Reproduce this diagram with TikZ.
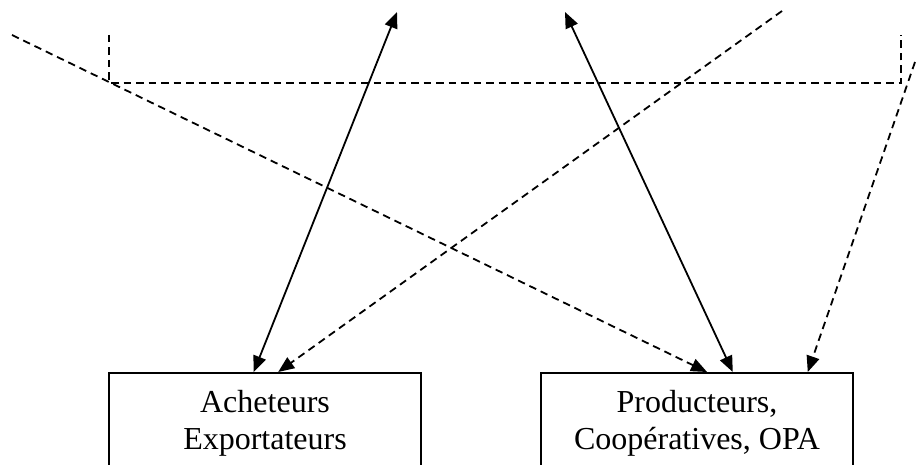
\documentclass[tikz,border=0pt]{standalone}
\usepackage{fontspec}
\setmainfont{Liberation Serif}
\usetikzlibrary{arrows.meta,calc}

\tikzset{
  actor/.style={draw, line width=1.8pt, minimum width=312pt, minimum height=130pt,
                anchor=north, inner sep=0pt},
  actorlabel/.style={anchor=north, align=center, inner sep=0pt,
                font=\fontsize{32pt}{37pt}\selectfont},
  tip/.style={Triangle[length=16pt,width=13pt]},
  flow/.style={line width=1.8pt, -{Triangle[length=16pt,width=13pt]}},
  twoway/.style={line width=1.8pt, {Triangle[length=16pt,width=13pt]}-{Triangle[length=16pt,width=13pt]}},
  dashflow/.style={flow, dash pattern=on 7.5pt off 5pt},
  dashline/.style={line width=1.8pt, dash pattern=on 7.5pt off 5pt}
}

\begin{document}
\begin{tikzpicture}[x=1pt, y=-1pt]
  \useasboundingbox (0,0) rectangle (917,465);

  % the two actors (their boxes run on past the lower edge)
  \node[actor] (acheteurs) at (265,372) {};
  \node[actor] (producteurs) at (697,372) {};
  \node[actorlabel] (acheteursT) at (265,390) {Acheteurs\\Exportateurs};
  \node[actorlabel] (producteursT) at (697,390) {Producteurs,\\Coopératives, OPA};

  % free ends at the top
  \coordinate (topA) at (397,12);
  \coordinate (topB) at (565,12);
  \coordinate (leftStart) at (12,35);
  \coordinate (rightStart) at (782,11);
  \coordinate (edgeStart) at (915,62);

  % dashed bracket
  \coordinate (brL) at (109,35);
  \coordinate (brR) at (901,35);
  \draw[dashline] (brL) -- (109,83) -- (901,83) -- (brR);

  % points of arrival on the box tops
  \coordinate (aSolid) at ($(acheteurs.north west)!0.464!(acheteurs.north east)$);
  \coordinate (aDash)  at ($(acheteurs.north west)!0.542!(acheteurs.north east)$);
  \coordinate (pDashA) at ($(producteurs.north west)!0.532!(producteurs.north east)$);
  \coordinate (pSolid) at ($(producteurs.north west)!0.614!(producteurs.north east)$);
  \coordinate (pDashC) at ($(producteurs.north west)!0.853!(producteurs.north east)$);

  % connectors
  \draw[twoway] (topA) -- (aSolid);
  \draw[twoway] (topB) -- (pSolid);
  \draw[dashflow] (leftStart) -- (pDashA);
  \draw[dashflow] (rightStart) -- (aDash);
  \draw[dashflow] (edgeStart) -- (pDashC);
\end{tikzpicture}
\end{document}
